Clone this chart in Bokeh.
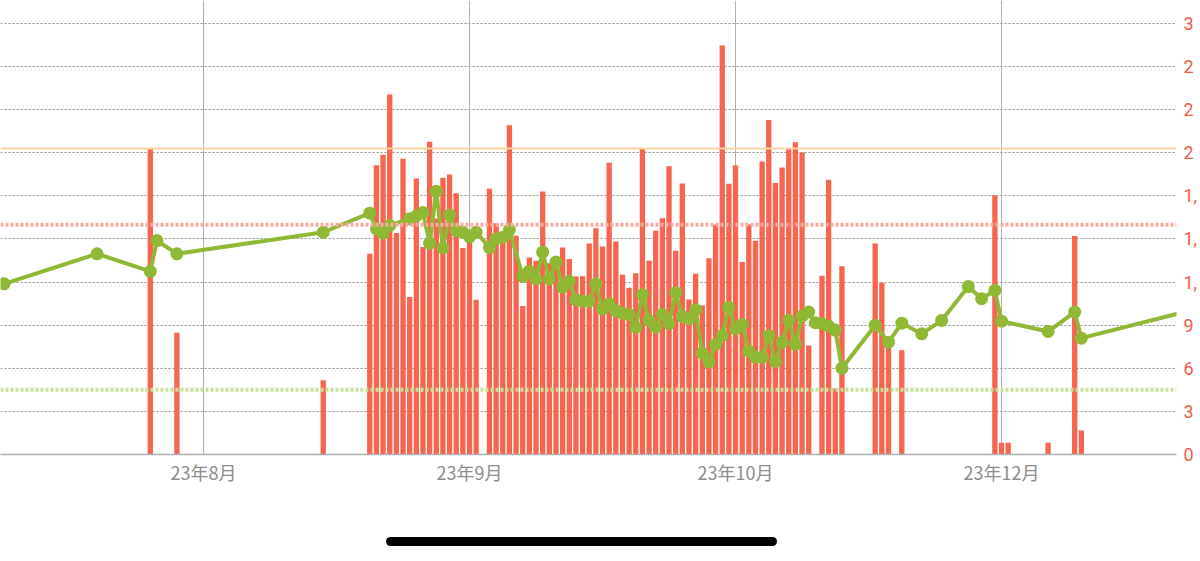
import pandas as pd
from bokeh.plotting import figure
from bokeh.models import ColumnDataSource, FixedTicker, Span, Div, Range1d
from bokeh.layouts import column
from bokeh.embed import file_html
from bokeh.resources import INLINE

# ---------------- data ----------------
BAR_DATES = [
    "2023-07-29", "2023-08-02", "2023-08-24", "2023-08-31",
    "2023-09-01", "2023-09-02", "2023-09-03", "2023-09-04", "2023-09-05", "2023-09-06",
    "2023-09-07", "2023-09-08", "2023-09-09", "2023-09-10", "2023-09-11", "2023-09-12",
    "2023-09-13", "2023-09-14", "2023-09-15", "2023-09-16", "2023-09-18", "2023-09-19",
    "2023-09-20", "2023-09-21", "2023-09-22", "2023-09-23", "2023-09-24", "2023-09-25",
    "2023-09-26", "2023-09-27", "2023-09-28", "2023-09-29", "2023-09-30",
    "2023-10-01", "2023-10-02", "2023-10-03", "2023-10-04", "2023-10-05", "2023-10-06",
    "2023-10-07", "2023-10-08", "2023-10-09", "2023-10-10", "2023-10-11", "2023-10-12",
    "2023-10-13", "2023-10-14", "2023-10-15", "2023-10-16", "2023-10-17", "2023-10-18",
    "2023-10-19", "2023-10-20", "2023-10-21", "2023-10-22", "2023-10-23", "2023-10-24",
    "2023-10-25", "2023-10-26", "2023-10-27", "2023-10-28", "2023-10-29", "2023-10-30",
    "2023-10-31", "2023-11-01", "2023-11-02", "2023-11-03", "2023-11-04", "2023-11-05",
    "2023-11-07", "2023-11-08", "2023-11-09", "2023-11-10", "2023-11-15", "2023-11-16",
    "2023-11-17", "2023-11-19", "2023-12-03", "2023-12-04", "2023-12-05", "2023-12-11",
    "2023-12-15", "2023-12-16",
]
BAR_VALUES = [
    2127, 847, 517, 1397,
    2014, 2086, 2505, 1541, 2059, 1097,
    1921, 1444, 2176, 1642, 1927, 1949,
    1819, 1438, 1500, 1077, 1849, 1610,
    1500, 2292, 1522, 1034, 1371, 1348,
    1830, 1331, 1362, 1440, 1361,
    1239, 1241, 1469, 1575, 1448, 2030,
    1483, 1251, 1160, 1262, 2132, 1348,
    1557, 1645, 2007, 1418, 1886, 1079,
    1258, 1037, 1366, 1599, 2847, 1884,
    2012, 1339, 1601, 1487, 2039, 2329,
    1889, 1998, 2128, 2174, 2102, 759,
    1244, 1912, 460, 1311, 1469, 1195,
    790, 726, 1803, 81, 81, 81,
    1520, 167,
]

LINE_DATES = [
    "2023-07-07", "2023-07-21", "2023-07-29", "2023-07-30", "2023-08-02", "2023-08-24",
    "2023-08-31", "2023-09-01", "2023-09-02", "2023-09-03", "2023-09-06", "2023-09-07",
    "2023-09-08", "2023-09-09", "2023-09-10", "2023-09-11", "2023-09-12", "2023-09-13",
    "2023-09-14", "2023-09-15", "2023-09-16", "2023-09-18", "2023-09-19", "2023-09-20",
    "2023-09-21", "2023-09-23", "2023-09-24", "2023-09-25", "2023-09-26", "2023-09-27",
    "2023-09-28", "2023-09-29", "2023-09-30",
    "2023-10-01", "2023-10-02", "2023-10-03", "2023-10-04", "2023-10-05", "2023-10-06",
    "2023-10-07", "2023-10-08", "2023-10-09", "2023-10-10", "2023-10-11", "2023-10-12",
    "2023-10-13", "2023-10-14", "2023-10-15", "2023-10-16", "2023-10-17", "2023-10-18",
    "2023-10-19", "2023-10-20", "2023-10-21", "2023-10-22", "2023-10-23", "2023-10-24",
    "2023-10-25", "2023-10-26", "2023-10-27", "2023-10-28", "2023-10-29", "2023-10-30",
    "2023-10-31", "2023-11-01", "2023-11-02", "2023-11-03", "2023-11-04", "2023-11-05",
    "2023-11-06", "2023-11-07", "2023-11-08", "2023-11-09", "2023-11-10", "2023-11-15",
    "2023-11-17", "2023-11-19", "2023-11-22", "2023-11-25", "2023-11-29", "2023-12-01",
    "2023-12-03", "2023-12-04", "2023-12-11", "2023-12-15", "2023-12-16", "2024-01-04",
]
LINE_VALUES = [
    1188, 1397, 1274, 1489, 1397, 1547,
    1680, 1571, 1540, 1594, 1641, 1660,
    1684, 1471, 1832, 1438, 1667, 1559,
    1547, 1515, 1547, 1440, 1501, 1513,
    1564, 1239, 1276, 1223, 1408, 1223,
    1339, 1165, 1206,
    1077, 1067, 1067, 1188, 1014, 1049,
    1002, 984, 974, 886, 1112, 933,
    886, 974, 910, 1125, 960, 945,
    1007, 705, 643, 766, 828, 1025,
    876, 905, 719, 677, 677, 828,
    647, 782, 933, 766, 963, 991,
    917, 910, 893, 866, 601, 900,
    782, 914, 840, 933, 1169, 1084,
    1142, 928, 856, 991, 810, 1033,
]

TICK_DATES = ["2023-08-06", "2023-09-15", "2023-10-25", "2023-12-04"]
TICK_LABELS = ["23年8月", "23年9月", "23年10月", "23年12月"]

Y_TICKS = [0, 300, 600, 900, 1200, 1500, 1800, 2100, 2400, 2700, 3000]
Y_TICK_LABELS = ["0", "3", "6", "9", "1,", "1,", "1,", "2", "2", "2", "3"]

GOAL_ORANGE = 2130
GOAL_PINK = 1600
GOAL_GREEN = 450

BASE_DATE = "2023-08-31"
X_VIEW = ("2023-07-06T11:20", "2023-12-30T07:25")
Y_VIEW = (0, 3160)

# ---------------- helpers ----------------
base = pd.Timestamp(BASE_DATE)


def days(dates):
    return [(pd.Timestamp(d) - base) / pd.Timedelta(days=1) for d in dates]


bar_src = ColumnDataSource(dict(x=days(BAR_DATES), top=BAR_VALUES))
line_src = ColumnDataSource(dict(x=days(LINE_DATES), y=LINE_VALUES))
tick_x = days(TICK_DATES)
xv = days(X_VIEW)

BAR_COLOR = "#F6654F"
GREEN = "#8FB935"

p = figure(
    width=1200, height=515,
    x_range=Range1d(xv[0], xv[1]), y_range=Range1d(*Y_VIEW),
    y_axis_location="right",
    output_backend="svg", toolbar_location=None,
    min_border_left=0, min_border_top=0, min_border_right=0, min_border_bottom=61,
)
p.outline_line_color = None
p.background_fill_color = "white"

# grids
p.xgrid.ticker = FixedTicker(ticks=tick_x)
p.xgrid.grid_line_color = "#b0b0b0"
p.xgrid.grid_line_width = 1
p.ygrid.ticker = FixedTicker(ticks=Y_TICKS)
p.ygrid.grid_line_color = "#8f8f8f"
p.ygrid.grid_line_dash = "2 2"
p.ygrid.grid_line_width = 1

# bars
p.vbar(x="x", top="top", bottom=0, width=0.8, source=bar_src,
       fill_color=BAR_COLOR, line_color=None)

# goal lines
for val, col, dash, w in [
    (GOAL_ORANGE, "#FDD3A2", "solid", 2),
    (GOAL_PINK, "#F9ABA3", "3 2", 4),
    (GOAL_GREEN, "#C9DF98", "3 2", 4),
]:
    p.add_layout(Span(location=val, dimension="width", line_color=col,
                      line_dash=dash, line_width=w, level="glyph"))

# green series
p.line(x="x", y="y", source=line_src, line_color=GREEN, line_width=4,
       line_join="round")
p.scatter(x="x", y="y", source=line_src, size=13, fill_color=GREEN,
          line_color=None)

# x axis
xa = p.xaxis[0]
xa.ticker = FixedTicker(ticks=tick_x)
xa.major_label_overrides = {t: lab for t, lab in zip(tick_x, TICK_LABELS)}
xa.axis_line_color = "#b0b0b0"
xa.axis_line_width = 1.5
xa.major_tick_line_color = None
xa.minor_tick_line_color = None
xa.major_tick_out = 0
xa.major_tick_in = 0
xa.minor_tick_out = 0
xa.minor_tick_in = 0
xa.major_label_text_font = "Noto Sans CJK JP"
xa.major_label_text_font_size = "18px"
xa.major_label_text_color = "#8c8c8c"
xa.major_label_standoff = 4

# y axis (right)
ya = p.yaxis[0]
ya.ticker = FixedTicker(ticks=Y_TICKS)
ya.major_label_overrides = {t: lab for t, lab in zip(Y_TICKS, Y_TICK_LABELS)}
ya.axis_line_color = None
ya.major_tick_line_color = None
ya.minor_tick_line_color = None
ya.major_tick_out = 0
ya.major_tick_in = 0
ya.minor_tick_out = 0
ya.minor_tick_in = 0
ya.axis_label_standoff = 0
ya.major_label_text_font = "Roboto"
ya.major_label_text_font_size = "18px"
ya.major_label_text_color = "#F25B47"
ya.major_label_standoff = 7

home = Div(
    text='<div style="width:391px;height:9px;background:#000;border-radius:5px;'
         'margin-left:386px;margin-top:22px"></div>',
    width=1200, height=30, margin=(0, 0, 0, 0),
)

layout = column(p, home, spacing=0)
open("out.html", "w").write(file_html(layout, INLINE))
